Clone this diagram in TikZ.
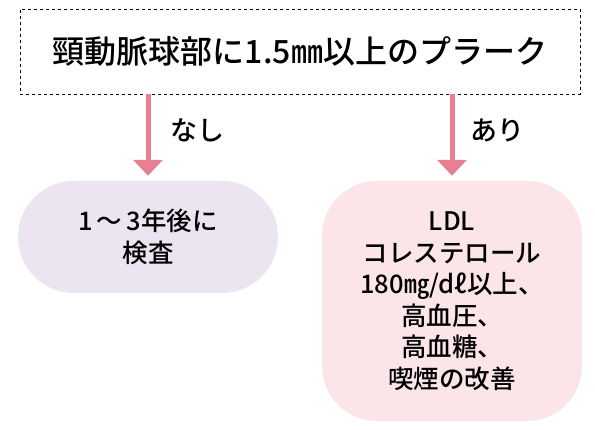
\documentclass[tikz,border=0pt]{standalone}
\usepackage{fontspec}
\usetikzlibrary{arrows.meta,positioning}
\newfontfamily\jpfont{Noto Sans CJK JP Medium}
\definecolor{arrowpink}{RGB}{233,128,146}
\definecolor{lavender}{RGB}{236,229,241}
\definecolor{blush}{RGB}{251,229,232}
\tikzset{
  choice/.style={font=\jpfont\fontsize{27}{31}\selectfont},
  stepbox/.style={align=center, inner sep=0pt, font=\jpfont\fontsize{25.5}{31.5}\selectfont},
  flowarrow/.style={draw=arrowpink, line width=5pt, -{Triangle[width=29pt,length=16pt]}, shorten >=5pt}
}

\begin{document}
\begin{tikzpicture}[x=1pt,y=1pt]
\useasboundingbox (0.000000, 0.000000) rectangle (595.000000, 429.000000);
% Drawing boxes
% Line 1: plaque question
\node[draw, dashed, line width=0.6pt, minimum width=560pt, minimum height=85pt, inner sep=0pt,
  font=\jpfont\fontsize{32}{36}\selectfont] (plaque) at (300.000000, 377.500000) {頸動脈球部に1.5㎜以上のプラーク};
% Line 2: no plaque
\node[stepbox, fill=lavender, rounded corners=55.9pt, minimum width=260pt, minimum height=112pt] (recheck) at (148.000000, 192.000000) {1\,～\,3年後に\\検査};
% Line 3: plaque
\node[stepbox, fill=blush, rounded corners=55pt, minimum width=260pt, minimum height=240pt] (improve) at (452.000000, 128.000000) {LDL\\コレステロール\\180㎎/dℓ以上、\\高血圧、\\高血糖、\\喫煙の改善};
% Done with boxes; drawing arrows
\draw[flowarrow] (plaque.south -| recheck.north) -- (recheck.north);
\draw[flowarrow] (plaque.south -| improve.north) -- (improve.north);
% Done with arrows; drawing labels
\node[choice] (nashi) at (197.000000, 299.000000) {なし};
\node[choice] (ari) at (497.000000, 299.000000) {あり};
% Done with labels
\end{tikzpicture}
\end{document}
